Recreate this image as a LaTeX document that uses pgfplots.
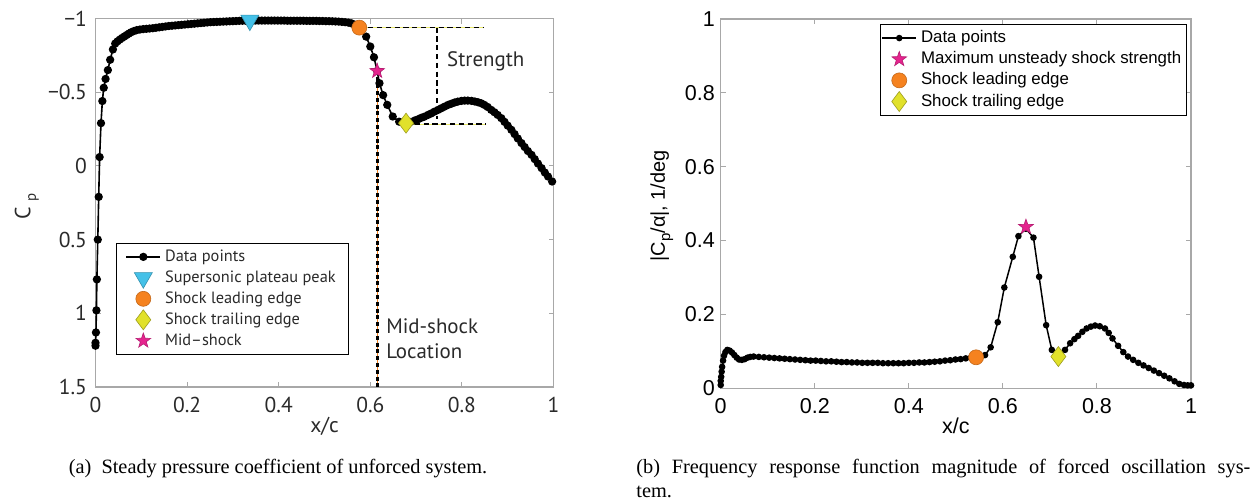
\documentclass[border=0pt]{standalone}
\usepackage{fontspec}
\setmainfont{Liberation Serif}
\newfontfamily\ptsans{PT Sans}
\newfontfamily\arial{Liberation Sans}
\usepackage{graphicx}
\usepackage{pgfplots}
\pgfplotsset{compat=1.18}

\definecolor{cyanm}{HTML}{45C1E8}
\definecolor{orangem}{HTML}{F5821F}
\definecolor{yellowm}{HTML}{E1E12B}
\definecolor{magentam}{HTML}{E5248E}
\definecolor{axgray}{HTML}{A8A8A8}
\definecolor{txt}{HTML}{2A2A2A}

\pgfdeclareplotmark{fstar}{%
  \pgfpathmoveto{\pgfpointpolar{90}{\pgfplotmarksize}}%
  \pgfpathlineto{\pgfpointpolar{126}{0.4\pgfplotmarksize}}%
  \pgfpathlineto{\pgfpointpolar{162}{\pgfplotmarksize}}%
  \pgfpathlineto{\pgfpointpolar{198}{0.4\pgfplotmarksize}}%
  \pgfpathlineto{\pgfpointpolar{234}{\pgfplotmarksize}}%
  \pgfpathlineto{\pgfpointpolar{270}{0.4\pgfplotmarksize}}%
  \pgfpathlineto{\pgfpointpolar{306}{\pgfplotmarksize}}%
  \pgfpathlineto{\pgfpointpolar{342}{0.4\pgfplotmarksize}}%
  \pgfpathlineto{\pgfpointpolar{18}{\pgfplotmarksize}}%
  \pgfpathlineto{\pgfpointpolar{54}{0.4\pgfplotmarksize}}%
  \pgfpathclose
  \pgfusepathqfillstroke}

\pgfplotstableread{
x cp
0.000 1.22
0.000 1.20
0.001 1.13
0.002 0.98
0.003 0.77
0.005 0.50
0.007 0.21
0.009 -0.06
0.012 -0.29
0.015 -0.44
0.018 -0.53
0.022 -0.59
0.027 -0.65
0.032 -0.72
0.038 -0.79
0.043 -0.83
0.048 -0.845
0.053 -0.857
0.058 -0.868
0.063 -0.878
0.068 -0.888
0.073 -0.898
0.078 -0.907
0.084 -0.915
0.090 -0.921
0.097 -0.925
0.104 -0.928
0.111 -0.930
0.118 -0.932
0.125 -0.934
0.132 -0.937
0.139 -0.940
0.146 -0.943
0.153 -0.946
0.160 -0.949
0.167 -0.951
0.174 -0.953
0.181 -0.955
0.188 -0.957
0.195 -0.959
0.202 -0.961
0.209 -0.963
0.216 -0.965
0.223 -0.967
0.230 -0.969
0.237 -0.971
0.244 -0.973
0.251 -0.975
0.258 -0.976
0.265 -0.977
0.272 -0.978
0.279 -0.979
0.286 -0.980
0.293 -0.981
0.300 -0.982
0.307 -0.983
0.314 -0.984
0.321 -0.985
0.328 -0.985
0.335 -0.986
0.342 -0.986
0.349 -0.986
0.356 -0.986
0.363 -0.986
0.370 -0.986
0.377 -0.986
0.384 -0.986
0.391 -0.986
0.398 -0.986
0.405 -0.986
0.412 -0.986
0.419 -0.985
0.426 -0.985
0.433 -0.985
0.440 -0.985
0.447 -0.985
0.454 -0.985
0.461 -0.984
0.468 -0.984
0.475 -0.984
0.482 -0.984
0.489 -0.983
0.496 -0.983
0.503 -0.982
0.510 -0.982
0.517 -0.981
0.524 -0.980
0.531 -0.979
0.538 -0.977
0.545 -0.975
0.552 -0.972
0.559 -0.967
0.566 -0.958
0.576 -0.938
0.591 -0.877
0.600 -0.810
0.608 -0.737
0.615 -0.644
0.620 -0.561
0.628 -0.480
0.637 -0.414
0.649 -0.335
0.663 -0.300
0.678 -0.290
0.687 -0.298
0.697 -0.308
0.704 -0.316
0.711 -0.326
0.718 -0.334
0.726 -0.346
0.733 -0.356
0.740 -0.368
0.748 -0.380
0.755 -0.391
0.762 -0.402
0.770 -0.414
0.777 -0.422
0.784 -0.430
0.791 -0.436
0.799 -0.441
0.806 -0.443
0.813 -0.443
0.821 -0.441
0.828 -0.437
0.835 -0.432
0.842 -0.425
0.849 -0.414
0.856 -0.400
0.864 -0.380
0.871 -0.364
0.878 -0.346
0.886 -0.324
0.893 -0.299
0.900 -0.273
0.908 -0.245
0.915 -0.216
0.922 -0.186
0.930 -0.155
0.937 -0.128
0.944 -0.101
0.952 -0.075
0.959 -0.046
0.966 -0.016
0.974 0.015
0.981 0.045
0.988 0.072
0.997 0.106
}\cpdata

\pgfplotstableread{
x m
0.000 0.009
0.000 0.020
0.001 0.031
0.002 0.045
0.003 0.058
0.005 0.075
0.007 0.088
0.010 0.098
0.014 0.104
0.019 0.102
0.024 0.097
0.029 0.090
0.034 0.083
0.039 0.078
0.045 0.077
0.051 0.079
0.057 0.083
0.063 0.085
0.070 0.086
0.081 0.085
0.092 0.084
0.103 0.083
0.114 0.082
0.125 0.081
0.136 0.080
0.147 0.079
0.158 0.078
0.169 0.077
0.180 0.076
0.191 0.075
0.202 0.075
0.213 0.074
0.224 0.073
0.235 0.073
0.246 0.072
0.257 0.071
0.268 0.071
0.279 0.070
0.290 0.070
0.301 0.069
0.312 0.069
0.323 0.069
0.334 0.069
0.345 0.068
0.356 0.068
0.367 0.068
0.378 0.068
0.389 0.068
0.400 0.069
0.411 0.069
0.422 0.070
0.433 0.070
0.444 0.071
0.455 0.072
0.466 0.073
0.477 0.075
0.488 0.076
0.499 0.078
0.510 0.079
0.521 0.081
0.532 0.083
0.543 0.084
0.553 0.086
0.562 0.090
0.574 0.111
0.589 0.179
0.603 0.273
0.621 0.356
0.633 0.412
0.649 0.432
0.665 0.408
0.677 0.302
0.692 0.171
0.704 0.104
0.718 0.086
0.732 0.104
0.743 0.122
0.752 0.133
0.760 0.142
0.769 0.153
0.778 0.162
0.787 0.167
0.796 0.170
0.806 0.168
0.817 0.162
0.825 0.150
0.833 0.135
0.845 0.115
0.856 0.098
0.866 0.086
0.877 0.077
0.888 0.069
0.899 0.062
0.910 0.055
0.921 0.048
0.932 0.041
0.943 0.034
0.954 0.027
0.965 0.019
0.975 0.012
0.985 0.009
0.993 0.008
1.000 0.008
}\frfdata

\begin{document}
\begin{tikzpicture}[x=1bp,y=1bp]
\useasboundingbox (0,0) rectangle (628,251);

% ---------------- (a) ----------------
\begin{axis}[
  scale only axis, width=229bp, height=184.25bp,
  at={(47.75bp,57.5bp)}, anchor=south west,
  xmin=0, xmax=1, ymin=-1, ymax=1.5, y dir=reverse,
  clip=false,
  axis line style={axgray, line width=0.6bp},
  tick style={axgray, line width=0.5bp},
  major tick length=2.5bp, tick align=inside,
  xtick={0,0.2,0.4,0.6,0.8,1}, xticklabels={0,0.2,0.4,0.6,0.8,1},
  ytick={-1,-0.5,0,0.5,1,1.5}, yticklabels={−1,−0.5,0,0.5,1,1.5},
  tick label style={font=\ptsans\fontsize{10.8}{12}\selectfont, text=txt},
  xticklabel style={yshift=-1.75bp},
  yticklabel style={xshift=-0.75bp},
  xlabel={x/c},
  xlabel style={font=\ptsans\fontsize{10.8}{12}\selectfont, text=txt, at={(axis description cs:0.5,-0.106)}, anchor=center},
  ylabel={C\raisebox{-0.5ex}{\fontsize{7.5}{8}\selectfont\,\,p}},
  ylabel style={font=\ptsans\fontsize{11}{12}\selectfont, text=txt, at={(axis description cs:-0.15,0.49)}, anchor=center},
  legend style={at={(axis description cs:0.0448,0.3916)}, anchor=north west,
    draw=black, line width=0.5bp, font=\ptsans\fontsize{8.2}{10}\selectfont,
    text=txt, inner xsep=4.5bp, inner ysep=1.2bp, row sep=-0.8bp},
  legend cell align=left,
]
% strength annotation lines
\addplot[forget plot, yellowm!70!white, line width=0.3bp] coordinates {(0.576,-0.938) (0.846,-0.938)};
\addplot[forget plot, black, line width=0.7bp, dash pattern=on 2.6bp off 1.8bp] coordinates {(0.576,-0.938) (0.846,-0.938)};
\addplot[forget plot, yellowm!70!white, line width=0.3bp] coordinates {(0.678,-0.283) (0.853,-0.283)};
\addplot[forget plot, black, line width=0.7bp, dash pattern=on 2.6bp off 1.8bp] coordinates {(0.678,-0.283) (0.853,-0.283)};
\addplot[forget plot, black, line width=0.7bp, dash pattern=on 2.6bp off 1.8bp] coordinates {(0.746,-0.938) (0.746,-0.32)};
% mid-shock line
\addplot[forget plot, orangem, line width=0.35bp] coordinates {(0.615,-0.60) (0.615,1.5)};
\addplot[forget plot, black, line width=1.5bp, dash pattern=on 2bp off 1.4bp] coordinates {(0.615,-0.60) (0.615,1.5)};

\addplot[black, line width=0.8bp, mark=*, mark size=1.65bp, mark options={solid, fill=black}] table[x=x, y=cp] {\cpdata};
\addlegendentry{Data points}
\addplot[only marks, mark=triangle*, mark size=5.2bp, mark options={rotate=180, fill=cyanm, draw=cyanm!75!black, line width=0.3bp}] coordinates {(0.337,-0.988)};
\addlegendentry{Supersonic plateau peak}
\addplot[only marks, mark=*, mark size=3.75bp, mark options={fill=orangem, draw=orangem!80!black, line width=0.3bp}] coordinates {(0.576,-0.938)};
\addlegendentry{Shock leading edge}
\addplot[only marks, mark=diamond*, mark size=5bp, mark options={fill=yellowm, draw=yellowm!70!black, line width=0.3bp}] coordinates {(0.678,-0.290)};
\addlegendentry{Shock trailing edge}
\addplot[only marks, mark=fstar, mark size=3.9bp, mark options={fill=magentam, draw=magentam!80!black, line width=0.3bp}] coordinates {(0.615,-0.644)};
\addlegendentry{Mid–shock}

\node[anchor=base west, font=\ptsans\fontsize{10.5}{12}\selectfont, text=txt, inner sep=0] at (axis cs:0.767,-0.673) {Strength};
\node[anchor=base west, font=\ptsans\fontsize{10.5}{12}\selectfont, text=txt, inner sep=0] at (axis cs:0.634,1.136) {Mid-shock};
\node[anchor=base west, font=\ptsans\fontsize{10.5}{12}\selectfont, text=txt, inner sep=0] at (axis cs:0.634,1.305) {Location};
\end{axis}

% ---------------- (b) ----------------
\begin{axis}[
  scale only axis, width=235.15bp, height=184.65bp,
  at={(360.35bp,56.85bp)}, anchor=south west,
  xmin=0, xmax=1, ymin=0, ymax=1,
  clip=false,
  axis line style={axgray, line width=0.6bp},
  tick style={axgray, line width=0.5bp},
  major tick length=2.5bp, tick align=inside,
  xtick={0,0.2,0.4,0.6,0.8,1}, xticklabels={0,0.2,0.4,0.6,0.8,1},
  ytick={0,0.2,0.4,0.6,0.8,1}, yticklabels={0,0.2,0.4,0.6,0.8,1},
  tick label style={font=\arial\fontsize{10.8}{12}\selectfont, text=black},
  xticklabel style={yshift=-1.5bp},
  yticklabel style={xshift=0.6bp},
  xlabel={x/c},
  xlabel style={font=\arial\fontsize{10.8}{12}\selectfont, at={(axis description cs:0.5,-0.102)}, anchor=center},
  ylabel={|C\raisebox{-0.5ex}{\fontsize{7.5}{8}\selectfont p}/α|, 1/deg},
  ylabel style={font=\arial\fontsize{10}{12}\selectfont, at={(axis description cs:-0.125,0.494)}, anchor=center},
  legend style={at={(axis description cs:0.3387,0.9865)}, anchor=north west,
    draw=black, line width=0.5bp, font=\arial\fontsize{8.45}{10}\selectfont,
    inner xsep=0.5bp, inner ysep=1bp, row sep=-1bp},
  legend cell align=left,
]
\addplot[black, line width=0.75bp, mark=*, mark size=1.25bp, mark options={solid, fill=black}] table[x=x, y=m] {\frfdata};
\addlegendentry{Data points}
\addplot[only marks, mark=fstar, mark size=3.9bp, mark options={fill=magentam, draw=magentam!80!black, line width=0.3bp}] coordinates {(0.649,0.437)};
\addlegendentry{Maximum unsteady shock strength}
\addplot[only marks, mark=*, mark size=3.75bp, mark options={fill=orangem, draw=orangem!80!black, line width=0.3bp}] coordinates {(0.543,0.084)};
\addlegendentry{Shock leading edge}
\addplot[only marks, mark=diamond*, mark size=5bp, mark options={fill=yellowm, draw=yellowm!70!black, line width=0.3bp}] coordinates {(0.718,0.086)};
\addlegendentry{Shock trailing edge}
\end{axis}

% captions
\node[anchor=base, font=\fontsize{10.2}{12}\selectfont, inner sep=0] at (139,14.5) {(a)\enspace Steady pressure coefficient of unforced system.};
\node[anchor=base west, font=\fontsize{10.2}{12}\selectfont, inner sep=0] at (318,14.5) {\hbox to 307bp{(b) Frequency response function magnitude of forced oscillation sys-}};
\node[anchor=base west, font=\fontsize{10.2}{12}\selectfont, inner sep=0] at (318,2.5) {tem.};
\end{tikzpicture}
\end{document}
